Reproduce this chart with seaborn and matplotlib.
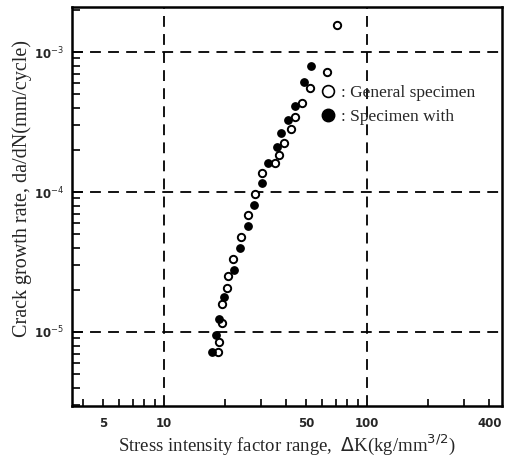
import numpy as np
import pandas as pd
import matplotlib
matplotlib.use('Agg')
import matplotlib.pyplot as plt
import seaborn as sns
from matplotlib.lines import Line2D
from matplotlib.ticker import FixedLocator, FuncFormatter, NullFormatter

# Dados (ΔK em kg/mm^3/2, da/dN em mm/ciclo)
dk_geral = [71.2, 63.5, 52.4, 47.8, 44.2, 42.2, 39.0, 36.8, 35.2, 30.4,
            28.1, 25.9, 23.9, 21.9, 20.7, 20.4, 19.3, 19.3, 18.7, 18.5]
dadn_geral = [1.56e-3, 7.2e-4, 5.53e-4, 4.32e-4, 3.43e-4, 2.82e-4, 2.24e-4, 1.84e-4, 1.61e-4, 1.37e-4,
              9.68e-5, 6.86e-5, 4.77e-5, 3.32e-5, 2.51e-5, 2.06e-5, 1.58e-5, 1.16e-5, 8.49e-6, 7.2e-6]

dk_with = [53.0, 48.9, 44.2, 40.8, 37.7, 36.0, 32.5, 30.4, 27.8, 25.9,
           23.7, 22.1, 19.8, 18.7, 18.0, 17.2]
dadn_with = [7.94e-4, 6.11e-4, 4.11e-4, 3.27e-4, 2.64e-4, 2.10e-4, 1.61e-4, 1.16e-4, 8.07e-5, 5.71e-5,
             3.98e-5, 2.77e-5, 1.78e-5, 1.24e-5, 9.52e-6, 7.2e-6]

legenda = [': General specimen', ': Specimen with']
x_rotulos = [5, 10, 50, 100, 400]

df_geral = pd.DataFrame({'dK': dk_geral, 'dadN': dadn_geral})
df_with = pd.DataFrame({'dK': dk_with, 'dadN': dadn_with})

sns.set_style('ticks')
plt.rcParams['font.family'] = ['DejaVu Sans']

fig = plt.figure(figsize=(5.11, 4.66), dpi=100)
ax = fig.add_axes([0.1409, 0.1288, 0.8415, 0.8562])

sns.scatterplot(x='dK', y='dadN', data=df_geral, ax=ax, marker='o', s=28,
                facecolor='white', edgecolor='black', linewidth=1.4, zorder=3)
sns.scatterplot(x='dK', y='dadN', data=df_with, ax=ax, marker='o', s=28,
                facecolor='black', edgecolor='black', linewidth=1.0, zorder=3)

ax.set_xscale('log')
ax.set_yscale('log')
ax.set_xlim(3.52, 462)
ax.set_ylim(2.96e-6, 2.10e-3)

# eixo x: grade em 10 e 100, rótulos em 5, 10, 50, 100, 400
ax.xaxis.set_major_locator(FixedLocator([10, 100]))
ax.xaxis.set_minor_locator(FixedLocator([4, 5, 6, 7, 8, 9, 20, 30, 40, 50, 60, 70, 80, 90, 200, 300, 400]))
fmt = FuncFormatter(lambda v, p: '%d' % round(v) if round(v) in x_rotulos else '')
ax.xaxis.set_major_formatter(fmt)
ax.xaxis.set_minor_formatter(fmt)

ax.yaxis.set_major_locator(FixedLocator([1e-5, 1e-4, 1e-3]))
ax.yaxis.set_major_formatter(FuncFormatter(lambda v, p: r'10$^{%d}$' % round(np.log10(v))))
ax.yaxis.set_minor_locator(FixedLocator([m * 10.0 ** e for e in (-6, -5, -4, -3) for m in range(2, 10)]))
ax.yaxis.set_minor_formatter(NullFormatter())

ax.tick_params(axis='both', which='both', direction='in', color='black', width=1.2,
               top=False, right=False, labelsize=8.5)
ax.tick_params(axis='x', which='major', length=0, pad=8)
ax.tick_params(axis='x', which='minor', length=5, pad=8)
ax.tick_params(axis='y', which='major', length=8, pad=6)
ax.tick_params(axis='y', which='minor', length=6)
for lab in ax.get_xticklabels(which='both') + ax.get_yticklabels():
    lab.set_fontweight('bold')

ax.grid(True, which='major', color='black', linestyle=(0, (6, 4)), linewidth=1.3)
ax.grid(False, which='minor')
for s in ax.spines.values():
    s.set_visible(True)
    s.set_linewidth(1.8)
    s.set_color('black')

ax.set_xlabel(r'Stress intensity factor range,  $\Delta$K(kg/mm$^{3/2}$)',
              family='Liberation Serif', fontsize=13.5, labelpad=2)
ax.set_ylabel('Crack growth rate, da/dN(mm/cycle)', family='Liberation Serif', fontsize=14.5)
ax.yaxis.set_label_coords(-0.093, 0.546)

handles = [Line2D([], [], marker='o', linestyle='none', markersize=8.5,
                  markerfacecolor='white', markeredgecolor='black', markeredgewidth=1.2),
           Line2D([], [], marker='o', linestyle='none', markersize=9,
                  markerfacecolor='black', markeredgecolor='black')]
leg = ax.legend(handles, legenda, loc='upper left', bbox_to_anchor=(0.58, 0.805),
                frameon=False, handlelength=0.8, handletextpad=0.3, borderpad=0,
                borderaxespad=0, labelspacing=0.45,
                prop={'family': 'Liberation Serif', 'size': 12.5})

fig.savefig('out.png', dpi=100, facecolor='white')
